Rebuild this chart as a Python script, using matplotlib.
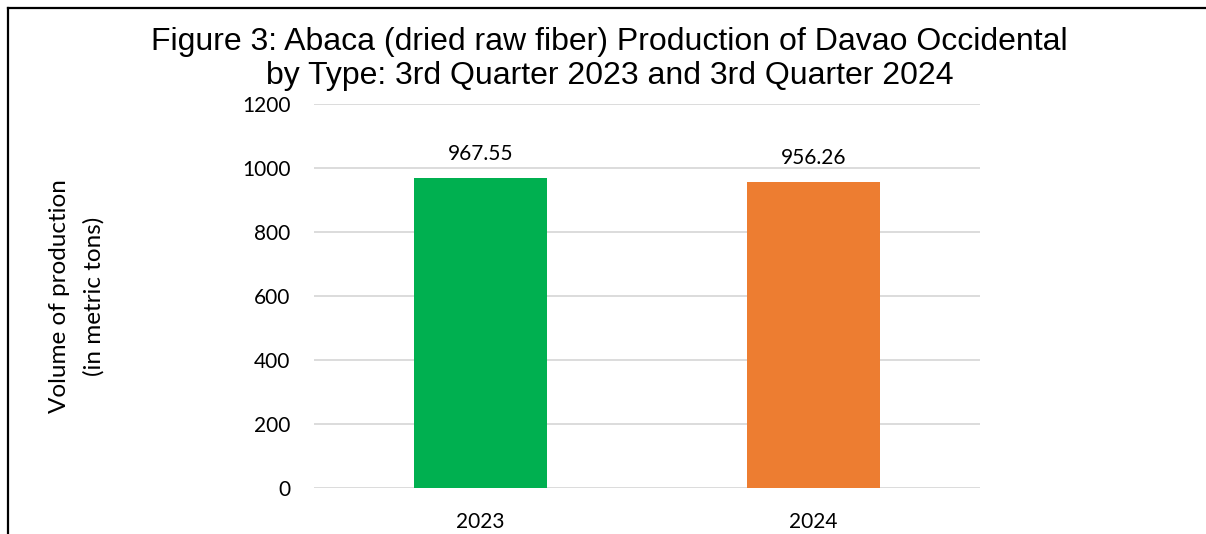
import matplotlib
matplotlib.use("Agg")
import matplotlib.pyplot as plt
from matplotlib.lines import Line2D

categories = ["2023", "2024"]
values = [967.55, 956.26]
value_labels = ["967.55", "956.26"]
colors = ["#00B050", "#ED7D31"]
yticks = [0, 200, 400, 600, 800, 1000, 1200]

W, H = 1206, 534
fig = plt.figure(figsize=(W / 100, H / 100), dpi=100)
fig.patch.set_facecolor("white")

ax = fig.add_axes([314 / W, 1 - 488 / H, (980 - 314) / W, (488 - 104) / H])
x = range(len(categories))
ax.bar(x, values, width=0.40, color=colors, zorder=3)
ax.set_xlim(-0.5, 1.5)
ax.set_ylim(0, 1200)
ax.set_yticks(yticks)
ax.set_xticks(list(x))
ax.set_xticklabels(categories)
ax.grid(axis="y", color="#D9D9D9", linewidth=1.3, zorder=0)
for s in ax.spines.values():
    s.set_visible(False)
ax.tick_params(axis="both", length=0, labelsize=15, colors="#000000")
ax.tick_params(axis="y", pad=17)
ax.tick_params(axis="x", pad=17)
for lab in ax.get_xticklabels() + ax.get_yticklabels():
    lab.set_fontfamily("Lato")

for xi, v, t in zip(x, values, value_labels):
    ax.annotate(t, (xi, v), xytext=(0, 10), textcoords="offset points",
                ha="center", va="bottom", fontsize=15, family="Lato")

fig.text(0.5055, 1 - 59 / H, "Figure 3: Abaca (dried raw fiber) Production of Davao Occidental\nby Type: 3rd Quarter 2023 and 3rd Quarter 2024",
         ha="center", va="center", fontsize=23, family="Liberation Sans", linespacing=1.2)

fig.text(77 / W, 1 - 296 / H, "Volume of production\n(in metric tons)", rotation=90,
         ha="center", va="center", fontsize=17.5, family="Lato", linespacing=1.75)

# frame lines
fig.add_artist(Line2D([8 / W, 1], [1 - 8 / H, 1 - 8 / H], transform=fig.transFigure, color="black", linewidth=1.6))
fig.add_artist(Line2D([8 / W, 8 / W], [1 - 8 / H, 0], transform=fig.transFigure, color="black", linewidth=1.6))

fig.savefig("out.png", dpi=100)
